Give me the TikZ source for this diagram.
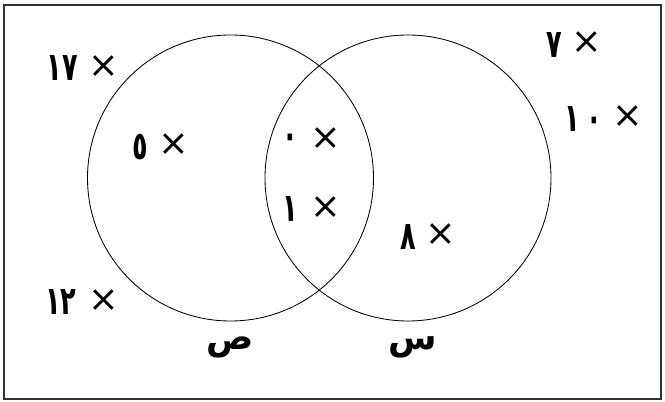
\documentclass[tikz,border=0pt]{standalone}
\usepackage{fontspec}
\usepackage{tikz}
\usetikzlibrary{positioning}
\newfontfamily\arabicfont[Script=Arabic]{DejaVu Sans}
\newfontfamily\arabicnum[Script=Arabic, FakeStretch=0.65]{DejaVu Sans Bold}
\TeXXeTstate=1

\begin{document}
\begin{tikzpicture}[
    num/.style={inner sep=0pt, font=\arabicnum\fontsize{28}{32}\selectfont},
    cross/.style={inner sep=0pt, font=\arabicfont\fontsize{26}{30}\selectfont},
    setname/.style={inner sep=0pt, font=\arabicfont\bfseries\fontsize{25}{30}\selectfont},
    setcircle/.style={draw=black, line width=0.6pt}
]
        \useasboundingbox (0,0) rectangle (16.625,10.05);
        \draw[line width=0.9pt, draw=black!80] (0.1,0.075) rectangle (16.525,9.925);

        % the two sets
        \draw[setcircle] (5.7625,5.6) circle (3.575);
        \draw[setcircle] (10.2,5.6) circle (3.575);

        \node[num, name=n17] at(1.5625,8.3375) {١٧};
        \node[cross, name=c17] at(2.5875,8.375) {×};
        \node[num, name=n7] at(13.85,8.925) {٧};
        \node[cross, name=c7] at(14.675,8.975) {×};
        \node[num, name=n10] at(14.5875,7.075) {١\,٠};
        \node[cross, name=c10] at(15.7,7.125) {×};

        \node[num, name=n5] at(3.5,6.375) {٥};
        \node[cross, name=c5] at(4.35,6.4375) {×};
        \node[num, name=n0] at(7.25,6.525) {٠};
        \node[cross, name=c0] at(8.1375,6.5875) {×};
        \node[num, name=n1] at(7.25,4.825) {١};
        \node[cross, name=c1] at(8.1375,4.8625) {×};
        \node[num, name=n8] at(10.2,4.125) {٨};
        \node[cross, name=c8] at(11.025,4.175) {×};

        \node[num, name=n12] at(1.525,2.4875) {١٢};
        \node[cross, name=c12] at(2.5875,2.5375) {×};

        \node[setname, name=Y] at(5.75,1.3625) {\beginR ص\endR};
        \node[setname, name=X] at(10.325,1.3625) {\beginR س\endR};
\end{tikzpicture}
\end{document}
